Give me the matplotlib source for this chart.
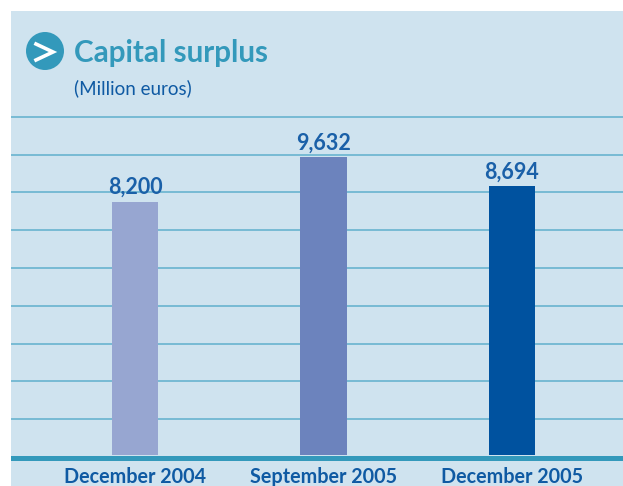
import matplotlib
matplotlib.use("Agg")
import matplotlib.pyplot as plt
from matplotlib.patches import Circle

categories = ["December 2004", "September 2005", "December 2005"]
values = [8200, 9632, 8694]
value_labels = ["8,200", "9,632", "8,694"]
bar_colors = ["#97a6d1", "#6c83bd", "#00529f"]
grid_values = [1165, 2378, 3591, 4820, 6050, 7279, 8492, 9705, 10934]

W = 623.0
H = 486.0
per_px = 32.35

plt.rcParams['font.family'] = ['Lato', 'DejaVu Sans']

fig = plt.figure(figsize=(6.23, 4.86), dpi=100, facecolor="white")
ax = fig.add_axes([11 / W, 0, (W - 11) / W, (H - 11) / H], facecolor="#cfe3ef")
ax.set_xlim(-0.658, 2.589)
ax.set_ylim(-31 * per_px, 444 * per_px)
for s in ax.spines.values():
    s.set_visible(False)
ax.set_yticks([])
ax.set_xticks([])

for g in grid_values:
    ax.axhline(g, color="#5fb0cd", lw=1.1, zorder=1)
ax.bar(range(3), values, width=0.246, color=bar_colors, zorder=2)
ax.axhline(-2.5 * per_px, color="#3399bb", lw=3.6, zorder=3)

for i in range(3):
    ax.text(i, values[i] + 4 * per_px, value_labels[i], ha="center", va="bottom",
            fontsize=15.5, fontweight="bold", color="#1a60a8")
    ax.text(i, -12 * per_px, categories[i], ha="center", va="top",
            fontsize=14.2, fontweight="bold", color="#0f5aa3")

# header drawn in pixel coordinates
top = fig.add_axes([0, 0, 1, 1], facecolor="none")
top.set_xlim(0, W)
top.set_ylim(H, 0)
top.axis("off")
top.add_patch(Circle((45, 51), 19, color="#3399bb", lw=0))
top.plot([36, 53, 36], [44, 52, 60], color="white", lw=2.6, solid_joinstyle="miter")
top.text(74, 53, "Capital surplus", fontsize=21.3, fontweight="bold", color="#3399bb", va="center")
top.text(74, 88, "(Million euros)", fontsize=13.5, color="#0f5aa3", va="center")

fig.savefig("out.png", dpi=100)
